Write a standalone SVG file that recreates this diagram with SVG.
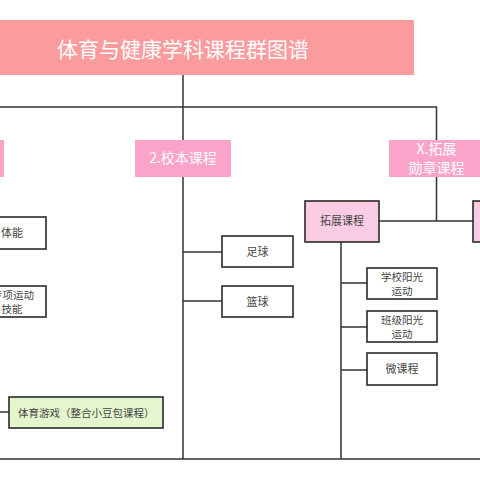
<svg xmlns="http://www.w3.org/2000/svg" width="480" height="480" viewBox="0 0 480 480">
<style>
.ln{stroke:#333;stroke-width:1.5;fill:none}
.bx{fill:#fff;stroke:#2a2a2a;stroke-width:1.6}
.pk{fill:#fba3c8}
.lp{fill:#fbcde4;stroke:#2a2a2a;stroke-width:1.6}
.gr{fill:#e3f6cd;stroke:#2a2a2a;stroke-width:1.6}
text{font-family:"Noto Sans CJK SC","Noto Sans",sans-serif}
.wt{fill:#fff;text-anchor:middle;font-size:14px}
.dk{fill:#444;text-anchor:middle;font-size:11px}
.sm{font-size:10.5px}
</style>
<rect width="480" height="480" fill="#fff"/>
<g id="connectors">
<path class="ln" d="M183 75V459M0 107H436.5V140M0 459H480M183 252H222M183 301H222M436.5 176V221M379 221H473M341 242V459M341 283H367M341 327H367M341 370H367M0 412H9"/>
</g>
<g id="title"><rect x="-2" y="20" width="416" height="55" fill="#fa9b9d"/><text x="183" y="57" fill="#fff" text-anchor="middle" font-size="21">体育与健康学科课程群图谱</text></g>
<g id="n-left"><rect class="pk" x="-10" y="140" width="14" height="37"/></g>
<g id="n-school"><rect class="pk" x="135" y="140" width="96" height="37"/><text class="wt" x="183" y="163">2.校本课程</text></g>
<g id="n-badge"><rect class="pk" x="389" y="140" width="95" height="37"/><text class="wt" x="436.5" y="154" font-size="13">X.拓展</text><text class="wt" x="436.5" y="172.5" font-size="13">勋章课程</text></g>
<g id="n-ext"><rect class="lp" x="305" y="201" width="74" height="41"/><text class="dk" x="342" y="225">拓展课程</text></g>
<g id="n-right"><rect class="lp" x="473" y="201" width="20" height="41"/></g>
<g id="n-football"><rect class="bx" x="222" y="236" width="71" height="31"/><text class="dk" x="257.5" y="256">足球</text></g>
<g id="n-basket"><rect class="bx" x="222" y="286" width="71" height="31"/><text class="dk" x="257.5" y="306">篮球</text></g>
<g id="n-tineng"><rect class="bx" x="-10" y="217" width="56" height="32"/><text class="dk" x="12" y="237">体能</text></g>
<g id="n-zhuanxiang"><rect class="bx" x="-10" y="286" width="56" height="31"/><text class="dk sm" x="13" y="299">专项运动</text><text class="dk sm" x="12" y="313">技能</text></g>
<g id="n-game"><rect class="gr" x="9" y="397" width="154" height="31"/><text x="18" y="417" fill="#444" font-size="10.5">体育游戏（整合小豆包课程）</text></g>
<g id="n-xuexiao"><rect class="bx" x="367" y="268" width="70" height="31"/><text class="dk sm" x="402" y="281">学校阳光</text><text class="dk sm" x="402" y="295">运动</text></g>
<g id="n-banji"><rect class="bx" x="367" y="311" width="70" height="31"/><text class="dk sm" x="402" y="324">班级阳光</text><text class="dk sm" x="402" y="338">运动</text></g>
<g id="n-wei"><rect class="bx" x="367" y="353" width="70" height="32"/><text class="dk" x="402" y="373">微课程</text></g>
</svg>
